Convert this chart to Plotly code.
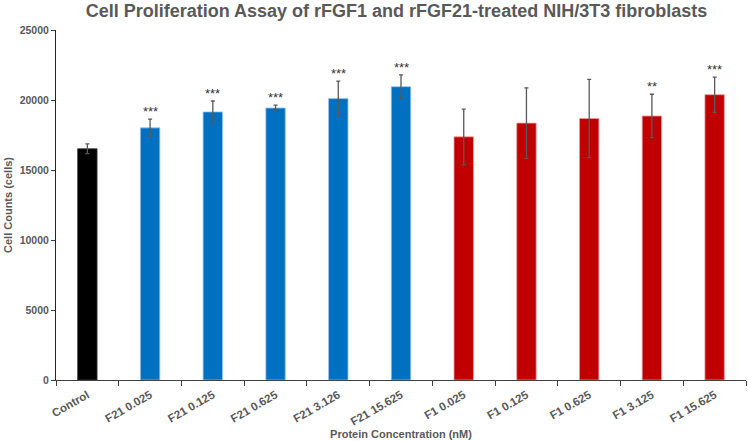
import plotly.graph_objects as go

categories = ["Control", "F21 0.025", "F21 0.125", "F21 0.625", "F21 3.126", "F21 15.625",
              "F1 0.025", "F1 0.125", "F1 0.625", "F1 3.125", "F1 15.625"]
values = [16520, 18010, 19150, 19430, 20100, 20950, 17370, 18350, 18680, 18860, 20380]
errors = [350, 620, 780, 200, 1250, 850, 1980, 2520, 2790, 1550, 1260]
significance = ["", "***", "***", "***", "***", "***", "", "", "", "**", "***"]
colors = ["#000000"] + ["#0070C0"] * 5 + ["#C00000"] * 5
edge_colors = ["#404040"] + ["#9DC3E6"] * 5 + ["#E8A0A0"] * 5

grey = "#595959"
font_family = "Liberation Sans, Arial, sans-serif"

fig = go.Figure()
fig.add_trace(go.Bar(
    x=categories, y=values,
    marker=dict(color=colors, line=dict(color=edge_colors, width=0.8)),
    error_y=dict(type="data", array=errors, visible=True, color=grey, thickness=1.3, width=2),
    width=0.31,
    showlegend=False,
))

for c, v, e, s in zip(categories, values, errors, significance):
    if s:
        fig.add_annotation(x=c, y=v + e, text=s, showarrow=False, yanchor="bottom", yshift=-2,
                           font=dict(family=font_family, size=13, color="#333333"))

fig.update_layout(
    width=748, height=441,
    margin=dict(l=56, r=2, t=30, b=61),
    paper_bgcolor="white", plot_bgcolor="white",
    font=dict(family=font_family, color=grey),
    title=dict(text="<b>Cell Proliferation Assay of rFGF1 and rFGF21-treated NIH/3T3 fibroblasts</b>",
               x=0.53, xanchor="center", y=0.976, yanchor="middle",
               font=dict(family=font_family, size=18, color=grey)),
    bargap=0.69,
)
fig.update_xaxes(
    type="category",
    showline=True, linecolor="#404040", linewidth=1,
    ticks="outside", tickson="boundaries", ticklen=5, tickcolor="#404040",
    tickangle=-30, ticklabelstandoff=3,
    tickfont=dict(family=font_family, size=11.5, color=grey, weight="bold"),
    title=dict(text="<b>Protein Concentration (nM)</b>", standoff=1,
               font=dict(family=font_family, size=11, color=grey)),
    showgrid=False,
)
fig.update_yaxes(
    range=[0, 25000], dtick=5000, tick0=0, tickformat="d",
    showline=True, linecolor="#262626", linewidth=1,
    ticks="outside", ticklen=4, tickcolor="#404040",
    tickfont=dict(family=font_family, size=10.5, color=grey, weight="bold"),
    title=dict(text="<b>Cell Counts (cells)</b>", standoff=4,
               font=dict(family=font_family, size=11, color=grey)),
    showgrid=False, zeroline=False,
)

fig.write_html("out.html")
